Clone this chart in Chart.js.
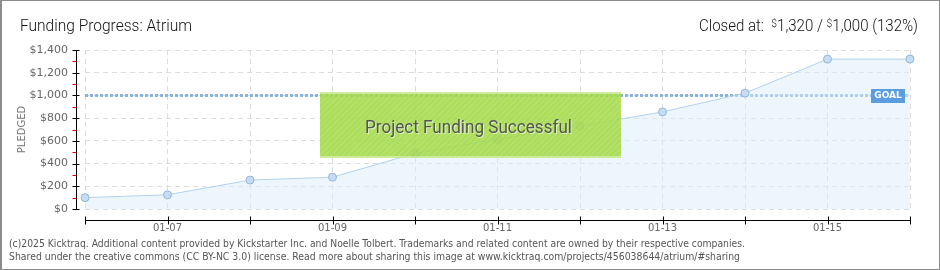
<!DOCTYPE html>
<html><head><meta charset="utf-8">
<script src="https://cdn.jsdelivr.net/npm/chart.js@4/dist/chart.umd.min.js"></script>
<style>
html,body{margin:0;padding:0;background:#fff;}
#wrap{position:relative;width:940px;height:270px;overflow:hidden;background:#fff;}
#c{position:absolute;left:0;top:0;}
#frame{position:absolute;left:0;top:0;width:940px;height:270px;box-sizing:border-box;border:1px solid #8c8c8c;border-left-width:2px;pointer-events:none;}
.t{position:absolute;white-space:nowrap;transform-origin:0 0;line-height:1;}
#title{left:20px;top:16px;font:300 16px Roboto,"DejaVu Sans",sans-serif;color:#111;}
#closed{left:699px;top:16px;font:300 16px Roboto,"DejaVu Sans",sans-serif;color:#111;}
#closed .d{font-size:11px;vertical-align:4px;}
.foot{left:9px;font:10px "DejaVu Sans Condensed","DejaVu Sans",sans-serif;color:#555;}
#f1{top:238px;}
#f2{top:251px;}
#box{position:absolute;left:320px;top:92px;width:301px;height:66px;box-sizing:border-box;opacity:0.88;
 background:repeating-linear-gradient(135deg,#a2d945 0 2px,#aadd55 2px 4px);
 border-top:2px solid #c6e98c;border-bottom:2px solid #c6e98c;}
#boxt{left:365px;top:116px;font:18px Roboto,"DejaVu Sans",sans-serif;color:#555;text-shadow:1px 1px 0 rgba(255,255,255,0.6);}
</style></head>
<body>
<div id="wrap">
<canvas id="c" width="940" height="270"></canvas>
<div id="box"></div>
<div class="t" id="boxt" data-w="207">Project Funding Successful</div>
<div class="t" id="title" data-w="172">Funding Progress: Atrium</div>
<div class="t" id="closed" data-w="219">Closed at:&nbsp; <span class="d">$</span>1,320 / <span class="d">$</span>1,000 (132%)</div>
<div class="t foot" id="f1" data-w="736">(c)2025 Kicktraq. Additional content provided by Kickstarter Inc. and Noelle Tolbert. Trademarks and related content are owned by their respective companies.</div>
<div class="t foot" id="f2" data-w="731">Shared under the creative commons (CC BY-NC 3.0) license. Read more about sharing this image at www.kicktraq.com/projects/456038644/atrium/#sharing</div>
<div id="frame"></div>
</div>
<script>
const categories = ['01-06','01-07','01-08','01-09','01-10','01-11','01-12','01-13','01-14','01-15','01-16'];
const pledged = [100,125,255,280,490,615,730,855,1020,1320,1320];
const goal = 1000;
const yMax = 1400;
const yStep = 200;

document.querySelectorAll('[data-w]').forEach(el=>{
  const w = el.getBoundingClientRect().width;
  const target = +el.dataset.w;
  el.style.transform = 'scaleX(' + (target/w) + ')';
});

const axesPlugin = {
  id:'axesPlugin',
  beforeDatasetsDraw(chart){
    const {ctx, chartArea:a, scales:{y}} = chart;
    const gy = Math.round(y.getPixelForValue(goal));
    ctx.save();
    ctx.strokeStyle = '#86b5e3';
    ctx.lineWidth = 3;
    ctx.setLineDash([3,2]);
    ctx.beginPath(); ctx.moveTo(a.left, gy+0.5); ctx.lineTo(a.right, gy+0.5); ctx.stroke();
    ctx.restore();
  },
  afterDraw(chart){
    const {ctx, chartArea:a, scales:{x,y}} = chart;
    ctx.save();
    ctx.lineWidth = 1;
    const ax = a.left - 8.5;
    ctx.strokeStyle = '#000';
    ctx.beginPath(); ctx.moveTo(ax, a.top); ctx.lineTo(ax, a.bottom+1); ctx.stroke();
    for(let v=0; v<=yMax; v+=yStep){
      const py = Math.round(y.getPixelForValue(v))+0.5;
      ctx.strokeStyle='#000';
      ctx.beginPath(); ctx.moveTo(ax-4, py); ctx.lineTo(ax+3, py); ctx.stroke();
      if(v+yStep/2 < yMax){
        const my = Math.round(y.getPixelForValue(v+yStep/2))+0.5;
        ctx.strokeStyle='#e00000';
        ctx.beginPath(); ctx.moveTo(ax-4, my); ctx.lineTo(ax, my); ctx.stroke();
      }
    }
    const xy = a.bottom + 11.5;
    ctx.strokeStyle='#000';
    ctx.beginPath(); ctx.moveTo(a.left, xy); ctx.lineTo(a.right, xy); ctx.stroke();
    categories.forEach((c,i)=>{
      const px = Math.round(x.getPixelForValue(i))+0.5;
      ctx.beginPath(); ctx.moveTo(px, xy-4); ctx.lineTo(px, xy+4); ctx.stroke();
    });
    const gy = Math.round(y.getPixelForValue(goal));
    const r = a.right - 5, l = r - 34;
    ctx.fillStyle = '#5b9de0';
    ctx.fillRect(l, gy-6, r-l, 14);
    ctx.fillStyle = '#fff';
    ctx.font = 'bold 9px "DejaVu Sans", sans-serif';
    ctx.textAlign = 'center'; ctx.textBaseline = 'middle';
    ctx.fillText('GOAL', (l+r)/2, gy+1);
    ctx.restore();
  }
};

new Chart(document.getElementById('c'), {
  type:'line',
  data:{
    labels: categories,
    datasets:[{
      data: pledged,
      fill:'origin',
      backgroundColor:'rgba(220,235,251,0.5)',
      borderColor:'#b3d1ef',
      borderWidth:1,
      pointRadius:4,
      pointBackgroundColor:'#c6dcf3',
      pointBorderColor:'#93b6dc',
      pointBorderWidth:1,
      tension:0,
      clip:false
    }]
  },
  options:{
    responsive:false,
    animation:false,
    devicePixelRatio:1,
    layout:{padding:{left:0,right:30,top:50,bottom:0}},
    plugins:{legend:{display:false},tooltip:{enabled:false}},
    scales:{
      x:{
        type:'category',
        offset:false,
        grid:{color:'#dcdcdc',drawTicks:false},
        border:{display:false,dash:[5,4]},
        ticks:{autoSkip:false,maxRotation:0,padding:13,color:'#666',font:{size:10,family:'"DejaVu Sans", sans-serif'},
          callback:(v,i)=> i%2===1 ? categories[i] : ''},
        afterFit:(s)=>{s.height=61;}
      },
      y:{
        min:0,max:yMax,
        grid:{color:'#dcdcdc',drawTicks:false},
        border:{display:false,dash:[5,4]},
        ticks:{stepSize:yStep,padding:17,color:'#666',font:{size:11,family:'"DejaVu Sans", sans-serif'},
          callback:(v)=>'$'+Number(v).toLocaleString('en-US')},
        title:{display:true,text:'PLEDGED',color:'#777',font:{size:10,family:'"DejaVu Sans", sans-serif'},padding:{top:16,bottom:0}},
        afterFit:(s)=>{s.width=85;}
      }
    }
  },
  plugins:[axesPlugin]
});
</script>
</body></html>
